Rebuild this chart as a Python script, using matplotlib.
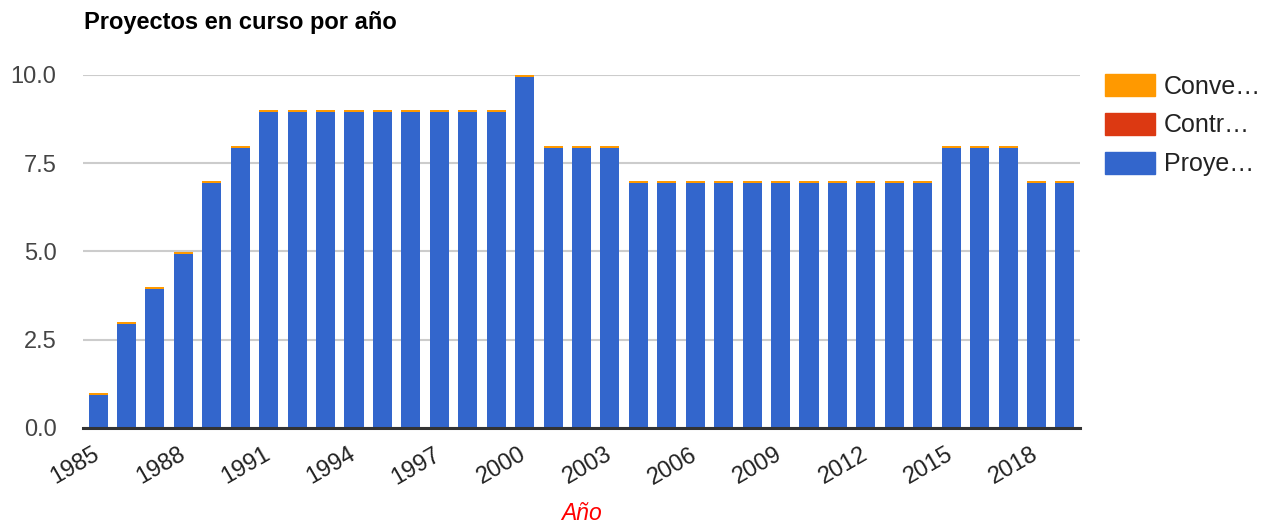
import numpy as np
import matplotlib
matplotlib.use("Agg")
import matplotlib.pyplot as plt
from matplotlib.patches import Patch

plt.rcParams["font.family"] = ["Liberation Sans", "DejaVu Sans"]

years = list(range(1985, 2020))
proyectos = [1, 3, 4, 5, 7, 8, 9, 9, 9, 9, 9, 9, 9, 9, 9, 10, 8, 8, 8,
             7, 7, 7, 7, 7, 7, 7, 7, 7, 7, 7, 8, 8, 8, 7, 7]
contratos = [0] * len(years)
convenios = [0.06] * len(years)  # thin sliver on top of every bar
tick_years = list(range(1985, 2019, 3))
labels = ["Conve…", "Contr…", "Proye…"]
colors = {"Proyectos": "#3366cc", "Contratos": "#dc3912", "Convenios": "#ff9900"}

W, H = 1277, 524
fig = plt.figure(figsize=(W / 100, H / 100), dpi=100)
ax = fig.add_axes([83 / W, 1 - 428 / H, (1080 - 83) / W, (428 - 75) / H])

x = np.array(years)
proy = np.array(proyectos) - np.array(convenios)
ax.bar(x, proy, width=0.67, color=colors["Proyectos"], zorder=3)
ax.bar(x, contratos, width=0.67, bottom=proy, color=colors["Contratos"], zorder=3)
ax.bar(x, convenios, width=0.67, bottom=proy + np.array(contratos),
       color=colors["Convenios"], zorder=3)

ax.set_xlim(1984.47, 2019.53)
ax.set_ylim(0, 10)
ax.set_yticks([0, 2.5, 5, 7.5, 10])
ax.set_yticklabels(["0.0", "2.5", "5.0", "7.5", "10.0"])
ax.set_xticks(tick_years)
ax.set_xticklabels([str(t) for t in tick_years], rotation=30, ha="right",
                   va="center", rotation_mode="anchor")
ax.tick_params(axis="x", length=0, pad=18, labelsize=17, labelcolor="#222222")
ax.tick_params(axis="y", length=0, pad=19, labelsize=17, labelcolor="#444444")
ax.grid(axis="y", color="#cccccc", lw=1.5, zorder=0)
ax.set_axisbelow(True)
for s in ["top", "right", "left"]:
    ax.spines[s].set_visible(False)
ax.spines["bottom"].set_color("#333333")
ax.spines["bottom"].set_linewidth(2.2)
ax.spines["bottom"].set_zorder(4)

fig.text(582 / W, 1 - 513 / H, "Año", color="#ff0000", style="italic",
         fontsize=16.5, ha="center", va="center")
fig.text(84 / W, 1 - 28.5 / H, "Proyectos en curso por año", fontsize=17,
         fontweight="bold", va="baseline", ha="left")

handles = [Patch(color=colors["Convenios"]), Patch(color=colors["Contratos"]),
           Patch(color=colors["Proyectos"])]
fig.legend(handles, labels, loc="upper left", bbox_to_anchor=(1105 / W, 1 - 74 / H),
           frameon=False, fontsize=18, handlelength=2.0, handleheight=1.0,
           labelspacing=0.56, handletextpad=0.36, borderpad=0, borderaxespad=0,
           labelcolor="#222222")

fig.savefig("out.png", dpi=100)
